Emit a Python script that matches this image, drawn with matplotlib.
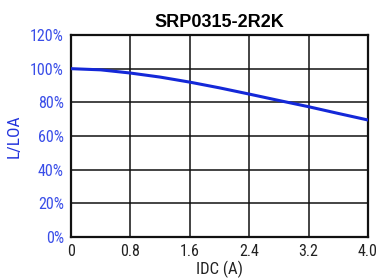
import matplotlib
matplotlib.use("Agg")
import matplotlib.pyplot as plt
from matplotlib import font_manager

idc = [0.0, 0.4, 0.8, 1.2, 1.6, 2.0, 2.4, 2.8, 3.2, 3.6, 4.0]
l_loa = [100.0, 99.3, 97.4, 95.0, 92.0, 88.6, 84.9, 81.1, 77.4, 73.4, 69.5]
xticks = [0, 0.8, 1.6, 2.4, 3.2, 4.0]
xtick_labels = ["0", "0.8", "1.6", "2.4", "3.2", "4.0"]
yticks = [0, 20, 40, 60, 80, 100, 120]

names = {f.name for f in font_manager.fontManager.ttflist}
cands = ['Liberation Sans Narrow', 'DejaVu Sans Condensed', 'Roboto Condensed', 'Open Sans Condensed']
narrow_first = [c for c in cands if c in names]
narrow = (narrow_first[:1] or ['Liberation Sans']) + ['DejaVu Sans']
blue_txt = '#3a4ee8'

fig = plt.figure(figsize=(3.78, 2.80), dpi=100)
ax = fig.add_axes([71/378, 1-237/280, (368-71)/378, (237-35)/280])
ax.plot(idc, l_loa, color='#1428d8', lw=2.2, zorder=3)
ax.set_xlim(0, 4.0)
ax.set_ylim(0, 120)
ax.set_xticks(xticks)
ax.set_xticklabels(xtick_labels, family=narrow, fontsize=11.5, color='#222222')
ax.set_yticks(yticks)
ax.set_yticklabels([f"{v}%" for v in yticks], family=narrow, fontsize=11.5, color=blue_txt)
ax.tick_params(axis='y', length=0, pad=5)
ax.tick_params(axis='x', length=0, pad=5)
ax.grid(True, color='#111111', lw=1.1)
for s in ax.spines.values():
    s.set_linewidth(1.6)
    s.set_color('#111111')
ax.set_xlabel("IDC (A)", family=narrow, fontsize=12, color='#222222', labelpad=1)
ax.set_ylabel("L/LOA", family=narrow, fontsize=12.5, color='#2233dd', labelpad=6)
ax.set_title("SRP0315-2R2K", family=['Liberation Sans', 'DejaVu Sans'], fontweight='bold', fontsize=13, pad=6)
fig.savefig("out.png", dpi=100)
